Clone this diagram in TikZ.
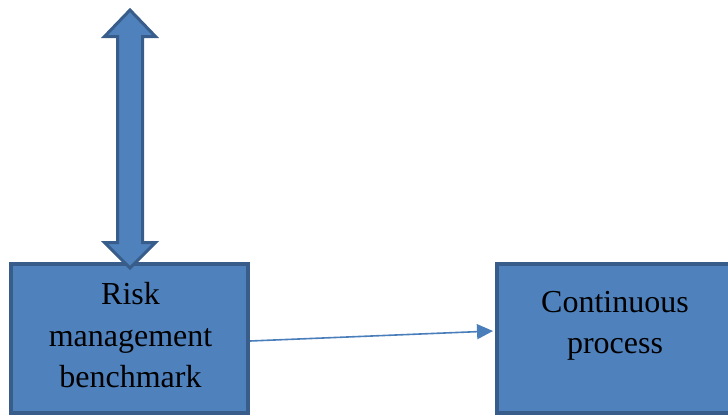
\documentclass[tikz,border=0pt]{standalone}
\usepackage{fontspec}
\setmainfont{Liberation Serif}
\usetikzlibrary{arrows.meta}
\definecolor{boxfill}{HTML}{4F81BD}
\definecolor{boxline}{HTML}{385D8A}
\definecolor{linkblue}{HTML}{4A7EBB}
\tikzset{
  block/.style={draw=boxline, fill=boxfill, line width=4pt, inner sep=0pt},
  blocktext/.style={align=center, inner sep=0pt, font=\fontsize{32}{41.5}\selectfont},
  link/.style={draw=linkblue, line width=1.6pt, -{Triangle[length=16pt,width=15pt]}},
  bigarrow/.style={draw=boxline, fill=boxfill, line width=3pt, line join=miter}
}
\begin{document}
\begin{tikzpicture}[x=1pt,y=-1pt]
  \useasboundingbox (0,0) rectangle (728,415);
  \clip (0,0) rectangle (728,415);
  % the two boxes
  \node[block, minimum width=237pt, minimum height=149pt] (risk) at (129.5,338.5) {};
  \node[block, minimum width=240pt, minimum height=149pt] (cont) at (617,338.5) {};
  \node[blocktext] (risktext) at (130.5,335.5) {Risk\\management\\benchmark};
  \node[blocktext] (conttext) at (615,326) {Continuous\\process};
  % vertical two-headed arrow above the left box
  \draw[bigarrow] (130,10) -- (155.5,36.5) -- (142.5,36.5) -- (142.5,242.5)
    -- (155.5,242.5) -- (130,268) -- (104.5,242.5) -- (117.5,242.5)
    -- (117.5,36.5) -- (104.5,36.5) -- cycle;
  % connector between the boxes
  \draw[link] ([yshift=-2.5pt]risk.east) -- ([yshift=7.5pt,xshift=-2pt]cont.west);
\end{tikzpicture}
\end{document}
